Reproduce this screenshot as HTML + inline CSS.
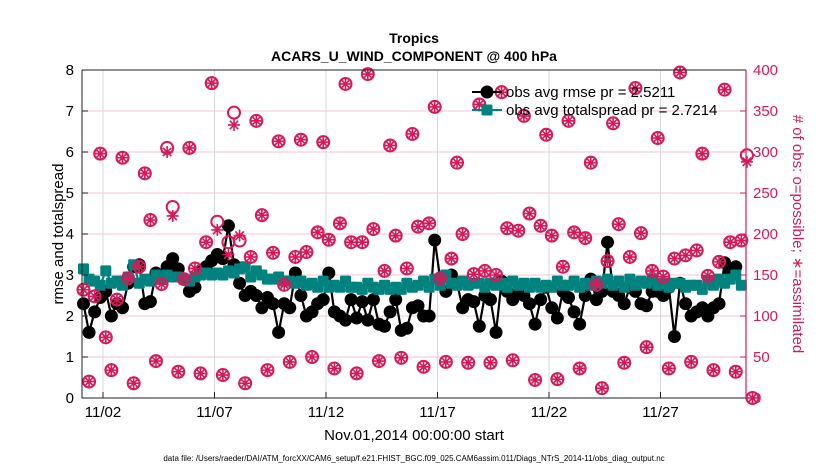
<!DOCTYPE html>
<html><head><meta charset="utf-8">
<style>
body{margin:0;background:#fff;}
svg text{font-family:"Liberation Sans",sans-serif;}
</style></head>
<body>
<svg id="chart" width="830" height="470" xmlns="http://www.w3.org/2000/svg">
<rect width="830" height="470" fill="#fff"/>
<g id="grid"></g>
<g id="series"></g>
<g id="axes"></g>
<text x="414" y="43" text-anchor="middle" font-size="14" font-weight="bold">Tropics</text>
<text x="414" y="61" text-anchor="middle" font-size="14" font-weight="bold">ACARS_U_WIND_COMPONENT @ 400 hPa</text>
<text transform="translate(63,234) rotate(-90)" text-anchor="middle" font-size="15">rmse and totalspread</text>
<text transform="translate(793,234) rotate(90)" text-anchor="middle" font-size="15" fill="#d7195a"># of obs: o=possible; ∗=assimilated</text>
<text x="414" y="440" text-anchor="middle" font-size="15">Nov.01,2014 00:00:00 start</text>
<text x="414" y="461" text-anchor="middle" font-size="8">data file: /Users/raeder/DAI/ATM_forcXX/CAM6_setup/f.e21.FHIST_BGC.f09_025.CAM6assim.011/Diags_NTrS_2014-11/obs_diag_output.nc</text>
<g id="legend"></g>
</svg>
<script>
const xTickDays=[1,6,11,16,21,26];
const xTickLabels=["11/02","11/07","11/12","11/17","11/22","11/27"];
const yTicks=[0,1,2,3,4,5,6,7,8];
const y2Ticks=[0,50,100,150,200,250,300,350,400];
const rmse=[2.3,1.6,2.1,2.45,2.6,2.0,2.3,2.2,2.8,3.2,3.25,2.3,2.35,3.05,2.9,3.2,3.4,3.15,2.9,2.6,2.7,3.1,3.2,3.35,3.5,3.4,4.2,3.25,2.8,2.5,2.6,2.5,2.2,2.45,2.3,1.6,2.3,2.2,3.05,2.5,2.0,2.1,2.3,2.4,3.05,2.1,2.0,1.9,2.4,1.95,2.35,1.9,2.4,1.8,1.75,2.1,2.4,1.65,1.7,2.2,2.25,2.0,2.0,3.85,2.9,2.6,3.0,2.8,2.2,2.4,2.35,1.75,2.5,2.4,1.6,2.85,2.6,2.4,2.6,2.5,2.3,1.8,2.4,2.7,2.2,1.95,2.6,2.45,2.1,1.8,2.5,2.9,2.4,2.6,3.8,2.6,2.5,2.3,2.7,2.6,2.3,2.25,2.6,2.6,2.5,2.7,1.5,2.8,2.3,2.0,2.1,2.2,2.0,2.2,2.3,3.3,3.1,3.2];
const spread=[3.15,2.9,2.85,2.75,3.1,2.8,2.85,2.75,2.95,3.25,2.8,2.9,2.85,3.0,2.9,3.0,2.95,2.95,2.9,2.85,2.95,3.0,3.05,3.0,3.05,3.0,3.1,3.05,3.15,3.2,2.95,3.1,3.0,2.9,2.9,2.95,2.85,2.85,2.8,2.85,2.75,2.8,2.7,2.85,2.7,2.75,2.7,2.85,2.7,2.7,2.65,2.8,2.7,2.65,2.75,2.65,2.7,2.65,2.8,2.7,2.75,2.85,2.7,2.9,2.75,3.0,2.8,2.75,2.85,2.75,2.8,2.8,2.7,2.8,2.75,2.8,2.7,2.85,2.75,2.8,2.7,2.8,2.7,2.75,2.7,2.85,2.75,2.75,2.85,2.7,2.8,2.75,2.85,2.8,2.9,2.75,2.85,2.7,2.9,2.75,2.85,2.8,2.9,2.75,2.8,2.7,2.8,2.8,2.7,2.75,2.75,2.65,2.85,2.75,2.9,2.8,2.9,3.0,2.75];
const nPossible=[132,20,124,298,74,34,120,293,146,18,160,274,217,45,139,305,233,32,145,305,158,30,190,384,215,28,190,348,192,18,172,338,223,34,177,313,138,44,172,315,178,50,202,312,193,36,213,383,190,30,190,395,206,45,155,308,198,49,158,322,209,38,213,355,146,44,170,287,200,43,151,358,155,43,150,373,207,46,204,344,225,22,210,321,198,23,160,338,202,36,195,287,138,12,167,335,212,43,172,378,201,62,155,317,148,36,170,397,174,44,180,298,149,34,166,376,190,32,192,296,0];
const nAssim=[132,20,124,298,74,34,120,293,146,18,160,274,217,45,139,300,222,32,145,305,158,30,190,384,205,28,175,333,198,18,172,338,223,34,177,313,138,44,172,315,178,50,202,312,193,36,213,383,190,30,190,395,206,45,155,308,198,49,158,322,209,38,213,355,146,44,170,287,200,43,151,358,155,43,150,373,207,46,204,344,225,22,210,321,198,23,160,338,202,36,195,287,138,12,167,335,212,43,172,378,201,62,155,317,148,36,170,397,174,44,180,298,149,34,166,376,190,32,192,288,0];
const legendLabels=["obs avg rmse pr = 2.5211","obs avg totalspread pr = 2.7214"];

const L=82,R=746,T=70,B=398,PINK="#d7195a",TEAL="#00827f";
const NS="http://www.w3.org/2000/svg";
function xs(d){return 103+(d-1)*22.3;}
function ys(v){return B-(v/8)*(B-T);}
function ys2(v){return B-(v/400)*(B-T);}
function tOf(k){return 0.125+k*0.25;}
function mk(tag,attrs,parent){const e=document.createElementNS(NS,tag);for(const k in attrs)e.setAttribute(k,attrs[k]);parent.appendChild(e);return e;}
const grid=document.getElementById('grid'),axes=document.getElementById('axes'),ser=document.getElementById('series'),leg=document.getElementById('legend');

yTicks.forEach(v=>{const y=ys(v);
 const g=mk('line',{x1:L,x2:R,y1:y,y2:y,stroke:"#f3c6d5","stroke-width":1},grid);
 
 
 const t=mk('line',{x1:L,x2:L+6,y1:y,y2:y,stroke:"#222"},axes);
 
 
 const lb=mk('text',{x:L-8,y:y+5,"text-anchor":"end","font-size":15},axes);lb.textContent=v;
 
 
});
y2Ticks.forEach(v=>{const y=ys2(v);
 const t=mk('line',{x1:R-6,x2:R,y1:y,y2:y,stroke:PINK},axes);
 
 
 const lb=mk('text',{x:R+7,y:y+5,"font-size":15,fill:PINK},axes);lb.textContent=v;
 
 
});
xTickDays.forEach((d,i)=>{const x=xs(d);
 const g=mk('line',{x1:x,x2:x,y1:T,y2:B,stroke:"#d8d8d8"},grid);
 
 
 const t=mk('line',{x1:x,x2:x,y1:B-6,y2:B,stroke:"#222"},axes);
 
 
 const lb=mk('text',{x:x,y:B+19,"text-anchor":"middle","font-size":15},axes);lb.textContent=xTickLabels[i];
 
 
});
const fr=mk('path',{d:`M${L},${T}H${R}M${L},${T}V${B}H${R}`,fill:"none",stroke:"#222","stroke-width":1},axes);


const ra=mk('line',{x1:R,x2:R,y1:T,y2:B,stroke:PINK,"stroke-width":1.2},axes);



function star(g,x,y,r){let d="";for(let a=0;a<4;a++){const an=a*Math.PI/4;d+=`M${x-r*Math.cos(an)},${y-r*Math.sin(an)}L${x+r*Math.cos(an)},${y+r*Math.sin(an)}`;}
 return mk('path',{d:d,stroke:PINK,"stroke-width":1.6,fill:"none"},g);}
(function(){
 const g=mk('g',{},ser);
 
 
 const pts=rmse.map((v,k)=>xs(tOf(k))+","+ys(v)).join(" ");
 const pl=mk('polyline',{points:pts,fill:"none",stroke:"#000","stroke-width":2.2},g);
 
 
 rmse.forEach((v,k)=>{const c=mk('circle',{cx:xs(tOf(k)),cy:ys(v),r:6.5,fill:"#000"},g);
  
  });
})();
(function(){
 const g=mk('g',{},ser);
 
 
 const pts=spread.map((v,k)=>xs(tOf(k))+","+ys(v)).join(" ");
 const pl=mk('polyline',{points:pts,fill:"none",stroke:TEAL,"stroke-width":2.2},g);
 
 
 spread.forEach((v,k)=>{const r=mk('rect',{x:xs(tOf(k))-5.5,y:ys(v)-5.5,width:11,height:11,rx:1.5,fill:TEAL},g);
  
  });
})();
(function(){
 const g=mk('g',{},ser);
 
 
 nPossible.forEach((v,k)=>{const x=xs(tOf(k));
  const c=mk('circle',{cx:x,cy:ys2(v),r:6,fill:"none",stroke:PINK,"stroke-width":2},g);
  
  
  const s=star(g,x,ys2(nAssim[k]),6);
  
  
 });
})();

[["#000","circle"],[TEAL,"square"]].forEach((s,i)=>{const y=92+i*18;
 const e=mk('g',{},leg);
 
 
 mk('line',{x1:472,x2:502,y1:y,y2:y,stroke:s[0],"stroke-width":2},e);
 if(s[1]=="circle")mk('circle',{cx:487,cy:y,r:6.5,fill:"#000"},e);
 else mk('rect',{x:481.5,y:y-5.5,width:11,height:11,rx:1.5,fill:TEAL},e);
 const t=mk('text',{x:506,y:y+5,"font-size":15},e);t.textContent=legendLabels[i];
});
</script>
</body></html>
